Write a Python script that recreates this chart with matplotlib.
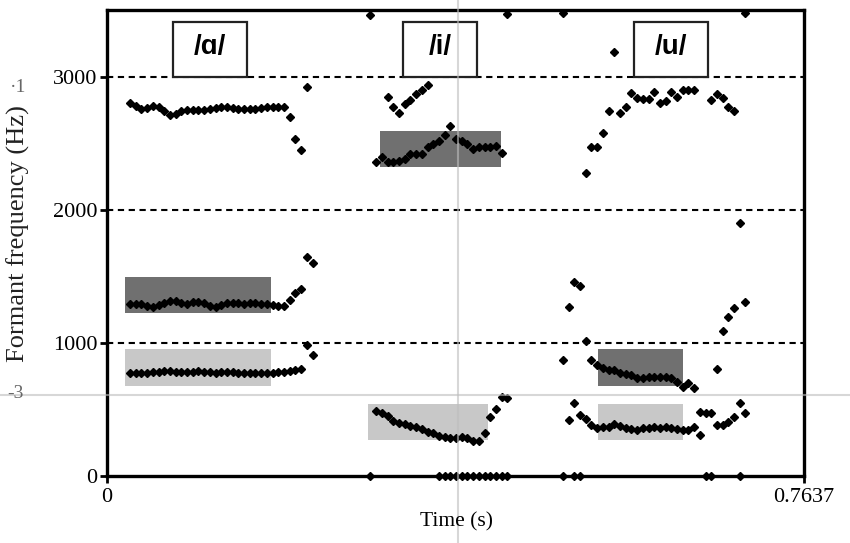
import numpy as np
import matplotlib.pyplot as plt
from matplotlib.patches import Rectangle
from matplotlib.lines import Line2D

nan = np.nan
DT = 0.00625      # paso de análisis de formantes (s)
T_END = 0.7637

# --- /a/ ---
a_t0 = 0.0252
a_f1 = [776, 776, 776, 776, 780, 784, 788, 786, 784, 780, 778, 784, 786, 782, 778, 776,
        780, 782, 780, 776, 776, 776, 776, 776, 776, 776, 778, 784, 790, 796, 800, 984, 909]
a_f2 = [1290, 1295, 1290, 1275, 1272, 1285, 1300, 1315, 1312, 1300, 1295, 1305, 1310, 1300,
        1280, 1272, 1285, 1300, 1300, 1297, 1295, 1297, 1297, 1295, 1290, 1282, 1280, 1280,
        1322, 1375, 1407, 1645, 1600]
a_f3 = [2800, 2780, 2760, 2765, 2780, 2770, 2740, 2710, 2720, 2740, 2750, 2752, 2750, 2750,
        2760, 2765, 2775, 2770, 2762, 2760, 2755, 2755, 2760, 2765, 2768, 2768, 2770, 2775,
        2697, 2532, 2450, 2923, nan]
a_f4 = [nan] * 33
a_f0 = [nan] * 33

# --- /i/ ---
i_t0 = 0.2887
i_f1 = [nan, 488, 473, 451, 413, 398, 391, 376, 368, 353, 331, 323, 300, 293, 285, 285,
        293, 285, 263, 263, 323, 443, 503, 594, 586]
i_f2 = [nan, 2359, 2397, 2359, 2359, 2367, 2382, 2419, 2419, 2419, 2472, 2494, 2517, 2562,
        2630, 2532, 2517, 2494, 2457, 2472, 2472, 2472, 2479, 2427, nan]
i_f3 = [nan, nan, nan, 2848, 2772, 2727, 2795, 2825, 2870, 2900, 2938, nan, nan, nan, nan,
        nan, nan, nan, nan, nan, nan, nan, nan, nan, nan]
i_f4 = [3460] + [nan] * 23 + [3471]
i_f0 = [0] + [nan] * 11 + [0] * 13

# --- /u/ ---
u_t0 = 0.4996
u_f1 = [nan, 421, 548, 458, 428, 383, 361, 368, 368, 391, 376, 361, 353, 346, 361, 361, 368,
        361, 368, 361, 353, 346, 346, 368, 308, 473, 473, 383, 383, 406, 443, 548, 473]
u_f2 = [871, nan, nan, nan, 1014, 871, 834, 811, 796, 796, 774, 766, 759, 736, 736, 744, 744,
        744, 744, 736, 706, 669, 699, 661, 481, nan, nan, 804, 1089, 1195, 1262, nan, 1307]
u_f3 = [nan, 1270, 1458, 1428, 2277, 2472, 2472, 2577, 2742, 3186, 2727, 2772, 2877, 2840,
        2832, 2832, 2885, 2802, 2817, 2885, 2848, 2900, 2900, 2900, nan, nan, 2825, 2870,
        2840, 2772, 2742, 1901, nan]
u_f4 = [3478] + [nan] * 31 + [3478]
u_f0 = [0, nan, 0, 0] + [nan] * 21 + [0, 0] + [nan] * 4 + [0, nan]

segments = [
    (a_t0, [a_f1, a_f2, a_f3, a_f4, a_f0]),
    (i_t0, [i_f1, i_f2, i_f3, i_f4, i_f0]),
    (u_t0, [u_f1, u_f2, u_f3, u_f4, u_f0]),
]

# zonas de medición (t inicio, t fin, f baja, f alta, color)
zonas = [
    (0.0197, 0.1797, 1225, 1495, '#707070'),
    (0.0197, 0.1797, 676, 954, '#c8c8c8'),
    (0.2991, 0.4317, 2322, 2590, '#707070'),
    (0.2860, 0.4174, 270, 538, '#c8c8c8'),
    (0.5380, 0.6311, 676, 954, '#707070'),
    (0.5380, 0.6311, 270, 538, '#c8c8c8'),
]

# etiquetas de vocal (t inicio, t fin, texto)
vocales = [
    (0.0723, 0.1534, '/ɑ/'),
    (0.3243, 0.4054, '/i/'),
    (0.5774, 0.6585, '/u/'),
]
etq_lo, etq_hi = 2998, 3411

SERIF = 'Liberation Serif'

fig = plt.figure(figsize=(8.5, 5.43), dpi=100)
ax = fig.add_axes([107/850, 67/543, 697/850, 466/543])

for t0, c, f_lo, f_hi, col in zonas:
    ax.add_patch(Rectangle((t0, f_lo), c - t0, f_hi - f_lo, facecolor=col,
                           edgecolor='none', zorder=1))

for y in [1000, 2000, 3000]:
    ax.axhline(y, color='black', linestyle=(0, (3, 2.2)), linewidth=1.5, zorder=1.5)

for t0, pistas in segments:
    for vals in pistas:
        vals = np.array(vals, dtype=float)
        t = t0 + DT * np.arange(len(vals))
        ax.plot(t, vals, linestyle='none', marker='D', markersize=4.4,
                color='black', zorder=3, clip_on=False)

for t0, t1, txt in vocales:
    ax.add_patch(Rectangle((t0, etq_lo), t1 - t0, etq_hi - etq_lo, facecolor='white',
                           edgecolor='#222222', linewidth=1.6, zorder=4))
    ax.text((t0 + t1) / 2, (etq_lo + etq_hi) / 2 + 15, txt, ha='center', va='center',
            fontsize=20, fontweight='bold', family=['Liberation Sans', 'DejaVu Sans'],
            zorder=5)

ax.set_xlim(0, T_END)
ax.set_ylim(0, 3500)
ax.set_yticks([0, 1000, 2000, 3000])
ax.set_yticklabels(['0', '1000', '2000', '3000'])
ax.set_xticks([0, T_END])
ax.set_xticklabels(['0', '0.7637'])
ax.tick_params(direction='out', length=5, width=2, labelsize=16, pad=2)
ax.tick_params(axis='x', pad=4)
for lab in ax.get_xticklabels() + ax.get_yticklabels():
    lab.set_family(SERIF)
for s in ax.spines.values():
    s.set_linewidth(2.4)

fig.text(457/850, 1 - 522/543, 'Time (s)', ha='center', va='center',
         fontsize=15.5, family=SERIF)
fig.text(18/850, 1 - 234/543, 'Formant frequency (Hz)', ha='center', va='center',
         rotation=90, fontsize=19, family=SERIF, color='#222222')

# cursores grises de la captura
fig.add_artist(Line2D([458/850, 458/850], [0, 1], color='#bdbdbd', linewidth=1.5,
                      alpha=0.6, transform=fig.transFigure))
fig.add_artist(Line2D([0, 1], [1 - 395/543, 1 - 395/543], color='#bdbdbd', linewidth=1.5,
                      alpha=0.6, transform=fig.transFigure))
fig.text(18/850, 1 - 87/543, '·1', ha='center', va='center', fontsize=14,
         color='#666666', family=SERIF)
fig.text(15/850, 1 - 394/543, '-3', ha='center', va='center', fontsize=14,
         color='#666666', family=SERIF)

fig.savefig('out.png', dpi=100)
